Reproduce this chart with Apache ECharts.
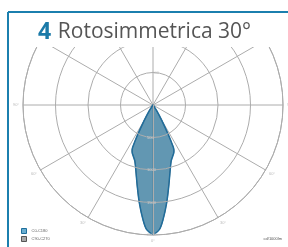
<!DOCTYPE html>
<html>
<head>
<meta charset="utf-8">
<script src="https://cdn.jsdelivr.net/npm/echarts@6/dist/echarts.min.js"></script>
<style>
html, body { margin: 0; padding: 0; background: #fff; }
#chart { width: 288px; height: 247px; }
</style>
</head>
<body>
<div id="chart"></div>
<script>
// angles from nadir (deg) and intensity (cd/1000lm), one half of the lobe
var angles = [0, 3, 5, 8, 11, 15, 18, 21, 24, 25, 26, 27, 28, 30, 33, 36, 40];
var c0c180 = [2000, 1915, 1770, 1515, 1270, 1025, 905, 845, 790, 760, 680, 560, 420, 250, 100, 30, 0];
var c90c270 = [2000, 1915, 1770, 1515, 1270, 1025, 905, 845, 790, 760, 680, 560, 420, 250, 100, 30, 0];
var ringLabels = ['', '500', '1000', '1500', '2000'];
var seriesNames = ['C0-C180', 'C90-C270'];

// mirror half lobe to full 0..360
function fullLobe(vals) {
  var out = [];
  for (var i = 0; i < angles.length; i++) out.push([vals[i], angles[i]]);
  out.push([0, 180]);
  for (var j = angles.length - 1; j >= 0; j--) out.push([vals[j], 360 - angles[j]]);
  return out;
}

var chart = echarts.init(document.getElementById('chart'));
var grey = '#acacac';
chart.setOption({
  animation: false,
  polar: [
    { center: [153, 105], radius: 130 },
    { center: [153, 105], radius: 130 }
  ],
  angleAxis: [
    {
      polarIndex: 0,
      type: 'value', min: 0, max: 360, interval: 30,
      startAngle: 270, clockwise: true,
      axisLine: { lineStyle: { color: grey, width: 1 } },
      axisTick: { show: false },
      splitLine: { lineStyle: { color: grey, width: 1 } },
      axisLabel: {
        fontSize: 4, color: '#bbb', margin: 4,
        formatter: function (v) { return (v > 180 ? 360 - v : v) + '°'; }
      }
    },
    {
      polarIndex: 1,
      type: 'value', min: 0, max: 360, startAngle: 90,
      axisLine: { show: false }, axisTick: { show: false },
      splitLine: { show: false }, axisLabel: { show: false }
    }
  ],
  radiusAxis: [
    {
      polarIndex: 0,
      type: 'value', min: 0, max: 2000, interval: 500,
      axisLine: { lineStyle: { color: grey, width: 1 } },
      axisTick: { show: false },
      splitLine: { lineStyle: { color: grey, width: 1 } },
      axisLabel: {
        fontSize: 4, color: '#ccc', margin: -6,
        formatter: function (v) { return ringLabels[v / 500]; }
      },
      z: 3
    },
    {
      polarIndex: 1,
      type: 'value', min: 0, max: 2000, interval: 500,
      axisLine: { show: false }, axisTick: { show: false },
      splitLine: { show: false },
      axisLabel: {
        fontSize: 4, color: '#ccc', margin: -6,
        formatter: function (v) { return ringLabels[v / 500]; }
      }
    }
  ],
  legend: {
    orient: 'vertical', left: 16, bottom: 0,
    itemWidth: 5, itemHeight: 5, itemGap: 2,
    textStyle: { fontSize: 4, color: '#666' },
    data: [
      { name: seriesNames[0], icon: 'rect', itemStyle: { color: '#6aaed0', borderColor: '#1f6f9c', borderWidth: 1 } },
      { name: seriesNames[1], icon: 'rect', itemStyle: { color: '#a8a8a8', borderColor: '#555', borderWidth: 1 } }
    ]
  },
  series: [
    {
      name: seriesNames[1], type: 'line', coordinateSystem: 'polar', polarIndex: 0,
      data: fullLobe(c90c270), smooth: 0.3, symbol: 'none',
      lineStyle: { color: '#777', width: 1 },
      areaStyle: { color: '#888', opacity: 0.2 },
      z: 2
    },
    {
      name: seriesNames[0], type: 'line', coordinateSystem: 'polar', polarIndex: 0,
      data: fullLobe(c0c180), smooth: 0.3, symbol: 'none',
      lineStyle: { color: '#1f6d9c', width: 1.5 },
      areaStyle: { color: '#29759b', opacity: 0.7 },
      z: 2
    }
  ],
  graphic: [
    { type: 'rect', shape: { x: 0, y: 0, width: 288, height: 47 }, style: { fill: '#fff' }, z: 100 },
    { type: 'rect', shape: { x: 0, y: 0, width: 7, height: 247 }, style: { fill: '#fff' }, z: 100 },
    { type: 'line', shape: { x1: 8, y1: 12, x2: 288, y2: 12 }, style: { stroke: '#1b7fae', lineWidth: 2 }, z: 101 },
    { type: 'line', shape: { x1: 8, y1: 12, x2: 8, y2: 247 }, style: { stroke: '#1b7fae', lineWidth: 2 }, z: 101 },
    {
      type: 'text', left: 38, top: 21, z: 102,
      style: {
        text: '{n|4}  {t|Rotosimmetrica 30°}',
        rich: {
          n: { fontFamily: 'Open Sans', fontWeight: 'bold', fontSize: 23, fill: '#1b7aa8' },
          t: { fontFamily: 'Open Sans', fontSize: 21, fill: '#555' }
        }
      }
    },
    {
      type: 'text', right: 6, bottom: 6, z: 102,
      style: { text: 'cd/1000lm', fontSize: 4, fill: '#555' }
    }
  ]
});
</script>
</body>
</html>
